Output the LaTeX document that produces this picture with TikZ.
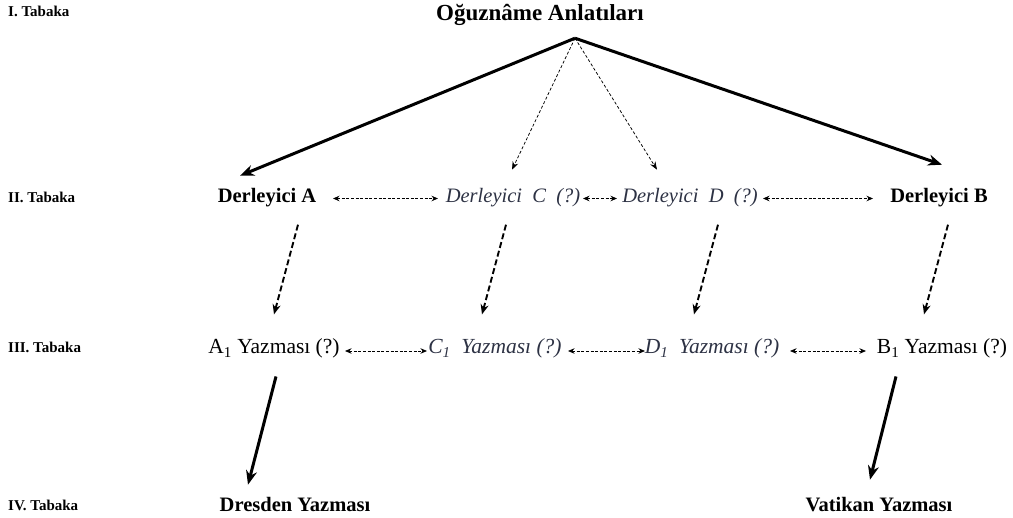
\documentclass[tikz,border=0pt]{standalone}
\usepackage{fontspec}
\setmainfont{Liberation Serif}
\usetikzlibrary{arrows.meta}
\definecolor{ital}{RGB}{45,50,68}
\begin{document}
\begin{tikzpicture}[x=1pt,y=-1pt,
  lbl/.style={anchor=base west,inner sep=0pt,font=\bfseries\fontsize{15}{16}\selectfont},
  txt/.style={anchor=base,inner sep=0pt,text height=0.75em,text depth=0.15em},
  boldII/.style={txt,font=\bfseries\fontsize{20.5}{22}\selectfont},
  italII/.style={txt,text=ital,font=\itshape\fontsize{20.5}{22}\selectfont},
  regIII/.style={txt,font=\fontsize{21.5}{23}\selectfont},
  italIII/.style={txt,text=ital,font=\itshape\fontsize{21.5}{23}\selectfont},
  boldIV/.style={txt,font=\bfseries\fontsize{20.5}{22}\selectfont},
  thinarr/.style={line width=0.75pt,dash pattern=on 3pt off 2pt,-{Stealth[length=8pt,width=6pt]}},
  harr/.style={line width=0.75pt,dash pattern=on 3pt off 1.6pt,{Stealth[length=6.5pt,width=5.5pt]}-{Stealth[length=6.5pt,width=5.5pt]}},
  thickdash/.style={line width=1.9pt,dash pattern=on 6pt off 3pt,-{Stealth[length=10pt,width=8pt]}},
  thickarr/.style={line width=3pt,-{Stealth[length=14pt,width=11pt]}}
]
\useasboundingbox (0,0) rectangle (1013,518);

% layer labels
\node[lbl] (L1) at (8,17) {I. Tabaka};
\node[lbl] (L2) at (8,203) {II. Tabaka};
\node[lbl] (L3) at (8,353) {III. Tabaka};
\node[lbl] (L4) at (8,511) {IV. Tabaka};

% title
\node[txt,font=\bfseries\fontsize{23}{25}\selectfont] (t) at (540,20.5) {Oğuznâme Anlatıları};
\coordinate (apex) at ([xshift=35pt,yshift=-16pt]t.south);

% row II
\node[boldII] (dA) at (267,203) {Derleyici A};
\node[italII] (dC) at (513,203) {Derleyici\ \ C\ \ (?)};
\node[italII] (dD) at (690,203) {Derleyici\ \ D\ \ (?)};
\node[boldII] (dB) at (939,203) {Derleyici B};

% row III
\node[regIII] (a1) at (274,354) {A\textsubscript{1} Yazması (?)};
\node[italIII] (c1) at (495,354) {C\textsubscript{1}\ \ Yazması (?)};
\node[italIII] (d1) at (712,354) {D\textsubscript{1}\ \ Yazması (?)};
\node[regIII] (b1) at (942,354) {B\textsubscript{1} Yazması (?)};

% row IV
\node[boldIV] (dres) at (295,512) {Dresden Yazması};
\node[boldIV] (vat) at (879,512) {Vatikan Yazması};

% title to row II
\draw[thickarr] (apex) -- ([xshift=-27pt,yshift=19.6pt]dA.north);
\draw[thickarr] (apex) -- ([xshift=3pt,yshift=30.6pt]dB.north);
\draw[thinarr] (apex) -- ([xshift=-1pt,yshift=25.6pt]dC.north);
\draw[thinarr] (apex) -- ([xshift=-33pt,yshift=25.6pt]dD.north);

% row II horizontal
\draw[harr] ([xshift=66pt,yshift=1.5pt]dA.center) -- ([xshift=-75pt,yshift=1.5pt]dC.center);
\draw[harr] ([xshift=70pt,yshift=1.5pt]dC.center) -- ([xshift=-73pt,yshift=1.5pt]dD.center);
\draw[harr] ([xshift=73pt,yshift=1.5pt]dD.center) -- ([xshift=-66pt,yshift=1.5pt]dB.center);

% row II to row III
\draw[thickdash] ([xshift=31pt,yshift=-20pt]dA.south) -- ([xshift=0pt,yshift=31.9pt]a1.north);
\draw[thickdash] ([xshift=-7pt,yshift=-20pt]dC.south) -- ([xshift=-13pt,yshift=31.9pt]c1.north);
\draw[thickdash] ([xshift=28pt,yshift=-20pt]dD.south) -- ([xshift=-18pt,yshift=31.9pt]d1.north);
\draw[thickdash] ([xshift=9pt,yshift=-20pt]dB.south) -- ([xshift=-18pt,yshift=31.9pt]b1.north);

% row III horizontal
\draw[harr] ([xshift=71pt]a1.center) -- ([xshift=-68pt]c1.center);
\draw[harr] ([xshift=73pt]c1.center) -- ([xshift=-67pt]d1.center);
\draw[harr] ([xshift=78pt]d1.center) -- ([xshift=-76pt]b1.center);

% row III to row IV
\draw[thickarr] ([xshift=2pt,yshift=-20.8pt]a1.south) -- ([xshift=-47pt,yshift=19.6pt]dres.north);
\draw[thickarr] ([xshift=-46pt,yshift=-20.8pt]b1.south) -- ([xshift=-9pt,yshift=24.6pt]vat.north);
\end{tikzpicture}
\end{document}
